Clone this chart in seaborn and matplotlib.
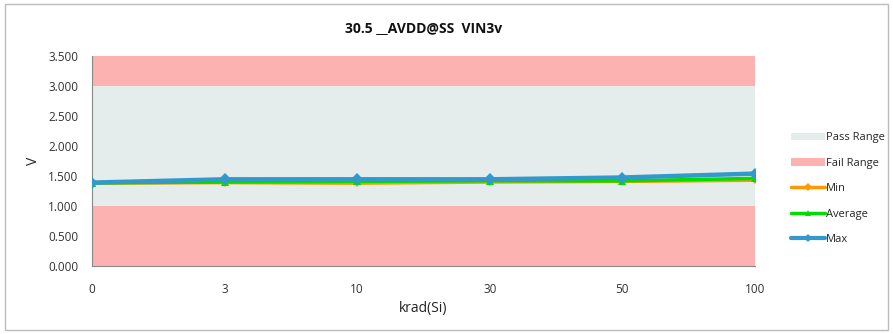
import matplotlib
matplotlib.use("Agg")
import matplotlib.pyplot as plt
import seaborn as sns
import pandas as pd
from matplotlib.patches import Patch
from matplotlib.lines import Line2D

categories = ["0", "3", "10", "30", "50", "100"]
min_vals = [1.38, 1.39, 1.38, 1.40, 1.41, 1.43]
avg_vals = [1.385, 1.40, 1.41, 1.42, 1.42, 1.46]
max_vals = [1.39, 1.445, 1.445, 1.445, 1.475, 1.54]
y_ticks = [0.0, 0.5, 1.0, 1.5, 2.0, 2.5, 3.0, 3.5]
pass_range = (1.0, 3.0)
fail_ranges = [(0.0, 1.0), (3.0, 3.5)]

sns.set_theme(style="white")
plt.rcParams['font.family'] = ['Open Sans', 'DejaVu Sans']

fig = plt.figure(figsize=(8.93, 3.34), dpi=100)
ax = fig.add_axes([0.103, 0.2036, 0.7425, 0.6287])

pass_c = "#E5ECEC"
fail_c = "#FDB2B2"
ax.axhspan(*pass_range, color=pass_c, lw=0, zorder=0)
for lo, hi in fail_ranges:
    ax.axhspan(lo, hi, color=fail_c, lw=0, zorder=0)

x = list(range(len(categories)))
df = pd.DataFrame({
    "x": x * 3,
    "v": min_vals + avg_vals + max_vals,
    "s": ["Min"] * 6 + ["Average"] * 6 + ["Max"] * 6,
})
colors = {"Min": "#FF9900", "Average": "#00DD00", "Max": "#3399CC"}
markers = {"Min": "D", "Average": "^", "Max": "D"}
sizes = {"Min": 4, "Average": 6, "Max": 6}
widths = {"Min": 2.5, "Average": 2.5, "Max": 3.2}
for s in ["Min", "Average", "Max"]:
    sns.lineplot(data=df[df.s == s], x="x", y="v", ax=ax, color=colors[s],
                 marker=markers[s], markersize=sizes[s], markeredgewidth=0,
                 linewidth=widths[s], legend=False, zorder=3)

ax.set_xlim(0, len(categories) - 1)
ax.set_ylim(0, 3.5)
ax.set_xticks(x)
ax.set_xticklabels(categories)
ax.set_yticks(y_ticks)
ax.set_yticklabels([f"{t:.3f}" for t in y_ticks])
ax.tick_params(axis="both", labelsize=8.5, colors="#333333", length=4,
               width=0.8, direction="out", pad=6)
ax.tick_params(axis="both", color="#888888")
ax.tick_params(axis="x", pad=8)
for sp in ["top", "right"]:
    ax.spines[sp].set_visible(False)
for sp in ["left", "bottom"]:
    ax.spines[sp].set_color("#888888")
    ax.spines[sp].set_linewidth(0.8)
ax.set_xlabel("krad(Si)", fontsize=10, color="#222222", labelpad=4)
ax.set_ylabel("V", fontsize=10, color="#222222", labelpad=5)
ax.set_title("30.5 __AVDD@SS  VIN3v", fontsize=10, fontweight="bold",
             color="#111111", pad=17)

handles = [
    Patch(facecolor=pass_c, edgecolor="none", label="Pass Range"),
    Patch(facecolor=fail_c, edgecolor="none", label="Fail Range"),
    Line2D([], [], color=colors["Min"], lw=2.5, marker="D", markersize=4, markeredgewidth=0, label="Min"),
    Line2D([], [], color=colors["Average"], lw=2.5, marker="^", markersize=5, markeredgewidth=0, label="Average"),
    Line2D([], [], color=colors["Max"], lw=3, marker="D", markersize=4, markeredgewidth=0, label="Max"),
]
fig.legend(handles=handles, loc="upper left", bbox_to_anchor=(0.881, 0.617),
           frameon=False, fontsize=8, labelspacing=1.3, handlelength=3.0,
           handletextpad=0.1, borderaxespad=0)

fig.patches.append(plt.Rectangle((0.006, 0.012), 0.988, 0.976, transform=fig.transFigure,
                                 fill=False, edgecolor="#BBBBBB", lw=1))
fig.savefig("out.png", dpi=100)
